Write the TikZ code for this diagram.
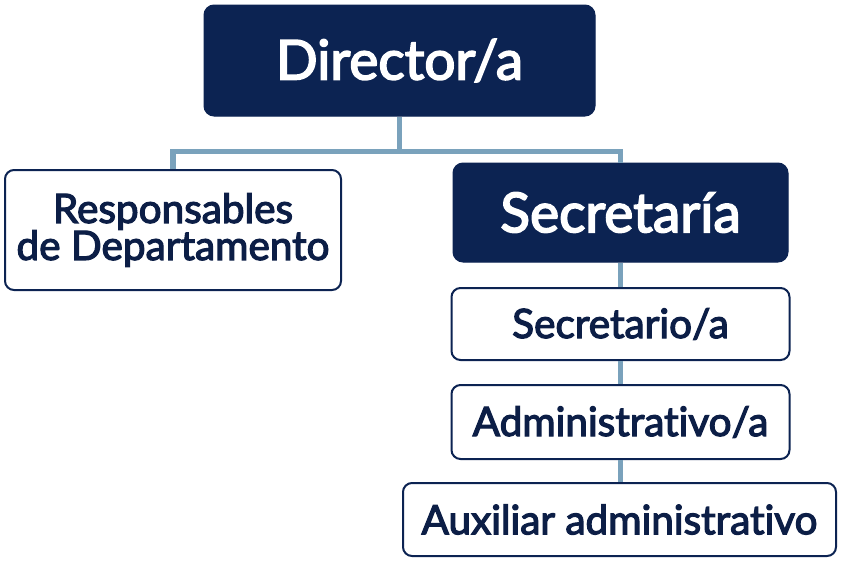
\documentclass[tikz,border=0pt]{standalone}
\usepackage{fontspec}
\setmainfont{Lato}[FakeBold=3,Ligatures=NoCommon]
\definecolor{navy}{RGB}{12,35,82}
\definecolor{navytext}{RGB}{12,30,70}
\definecolor{linkblue}{RGB}{122,162,188}
\begin{document}
\begin{tikzpicture}[x=1pt,y=-1pt,
  darkbox/.style={draw=navy,fill=navy,rounded corners=10pt,line width=1pt,text=white,inner sep=0pt,
    font=\fontsize{55}{60}\selectfont},
  lightbox/.style={draw=navy,fill=white,rounded corners=9pt,line width=2pt,text=navytext,inner sep=0pt,
    align=center,font=\fontsize{40.5}{37}\selectfont},
  link/.style={draw=linkblue,line width=5.5pt}]
\useasboundingbox (0,0) rectangle (841,565);
\node[darkbox,minimum width=391pt,minimum height=111pt] (dir) at (399.5,60.5) {Director/a};
\node[lightbox,minimum width=336pt,minimum height=120pt] (resp) at (173,230) {Responsables\\de Departamento};
\node[darkbox,minimum width=335pt,minimum height=99pt] (sec) at (620.5,212.5) {Secretaría};
\node[lightbox,minimum width=338pt,minimum height=72pt] (secr) at (620.5,324) {Secretario/a};
\node[lightbox,minimum width=338pt,minimum height=74pt] (adm) at (620.5,422) {Administrativo/a};
\node[lightbox,minimum width=433pt,minimum height=73pt] (aux) at (619.5,519.5) {Auxiliar administrativo};
\draw[link] (dir.south) -- ++(0,35) coordinate (j);
\draw[link,line join=miter] (resp.north) |- (j) -| (sec.north);
\draw[link] (sec.south) -- (secr.north);
\draw[link] (secr.south) -- (adm.north);
\draw[link] (adm.south) -- (adm.south |- aux.north);
\end{tikzpicture}
\end{document}
